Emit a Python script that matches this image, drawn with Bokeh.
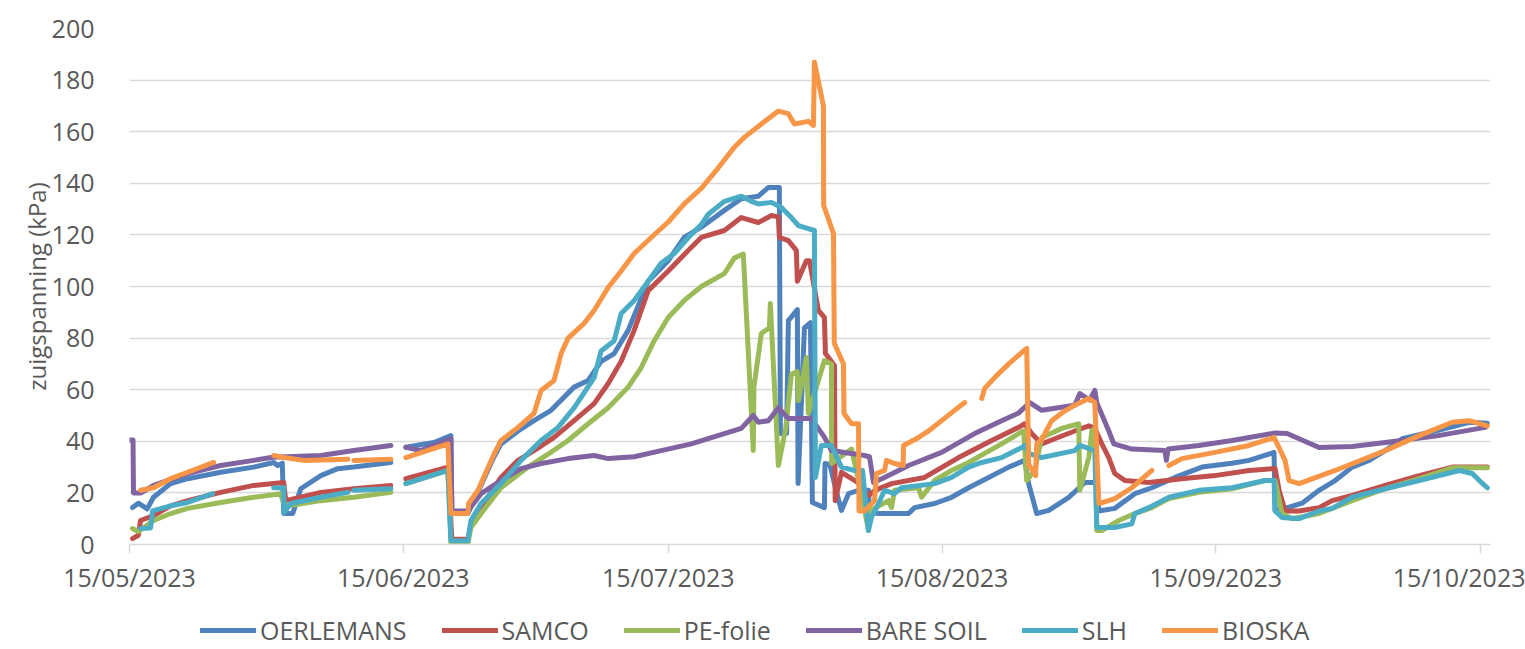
import pandas as pd
from bokeh.plotting import figure
from bokeh.layouts import column
from bokeh.models import (Range1d, FixedTicker, DatetimeTickFormatter, Legend,
                          LegendItem, ColumnDataSource)
from bokeh.embed import file_html
from bokeh.resources import INLINE

NaN = float("nan")
START_DATE = "2023-05-15"
END_DAY = 154.1  # axis end, days after start

SERIES = ["OERLEMANS", "SAMCO", "PE-folie", "BARE SOIL", "SLH", "BIOSKA"]
COLORS = ["#4F81BD", "#C0504D", "#9BBB59", "#8064A2", "#4BACC6", "#F79646"]
TICK_DATES = ["2023-05-15", "2023-06-15", "2023-07-15", "2023-08-15", "2023-09-15", "2023-10-15"]
Y_TICKS = [0, 20, 40, 60, 80, 100, 120, 140, 160, 180, 200]

# (days after 15/05/2023, zuigspanning kPa); NaN = gap in record
OERLEMANS = [
    (0.34, 14.3), (1.0, 16.0), (2.0, 13.8), (2.72, 18.3), (4.65, 23.6), (6.58, 25.5), (10.32, 28.0),
    (14.06, 30.0), (16.33, 31.8), (16.78, 30.6), (17.3, 31.5), (17.46, 12.0), (18.48, 12.0), (19.39, 21.6),
    (21.66, 26.7), (23.58, 29.4), (25.4, 30.0), (29.59, 31.8), (30.4, NaN), (31.29, 37.7), (34.47, 39.5),
    (36.39, 42.2), (36.5, 12.0), (38.32, 12.0), (39.8, 23.0), (41.27, 34.0), (42.06, 39.0), (44.0, 44.0),
    (45.8, 48.0), (47.73, 52.0), (50.34, 61.0), (51.93, 63.6), (53.4, 71.0), (54.88, 74.0), (56.46, 83.0),
    (58.73, 102.0), (61.0, 110.0), (62.81, 119.0), (64.74, 123.0), (67.35, 129.5), (69.27, 134.0),
    (71.2, 135.0), (72.34, 138.4), (73.58, 138.4), (73.7, 43.0), (74.4, 43.0), (74.6, 86.8), (75.62, 91.0),
    (75.7, 23.6), (76.42, 84.0), (77.1, 86.0), (77.32, 16.3), (78.68, 14.3), (78.75, 31.4), (79.3, 31.0),
    (80.0, 21.0), (80.61, 13.2), (81.41, 19.7), (82.54, 21.0), (83.67, 21.0), (83.79, 12.4), (84.81, 12.0),
    (88.21, 12.0), (88.89, 14.3), (91.16, 15.9), (93.08, 18.3), (95.01, 22.0), (97.28, 26.0), (99.55, 30.0),
    (101.36, 32.6), (101.81, 23.6), (102.72, 12.0), (104.08, 13.2), (106.35, 18.3), (108.16, 24.0),
    (109.5, 24.0), (109.75, 13.0), (111.56, 14.0), (113.83, 19.7), (115.76, 22.0), (118.37, 26.0),
    (121.43, 30.0), (124.83, 31.5), (126.76, 32.6), (129.59, 35.7), (129.71, 13.0), (130.84, 14.0),
    (132.77, 16.0), (134.69, 21.0), (136.51, 24.8), (138.44, 30.0), (140.36, 32.6), (142.18, 36.4),
    (144.1, 41.0), (147.85, 44.0), (151.7, 47.4), (153.74, 47.0)]

SAMCO = [
    (0.34, 2.3), (1.0, 3.6), (1.25, 9.3), (2.72, 11.2), (4.65, 15.0), (6.58, 17.0), (10.32, 20.2),
    (14.06, 22.9), (17.46, 24.0), (17.69, 17.0), (21.66, 20.2), (25.4, 21.6), (29.59, 22.9), (30.4, NaN),
    (31.29, 25.5), (36.05, 30.0), (36.5, 2.0), (38.32, 2.0), (38.66, 8.0), (39.8, 14.3), (42.06, 26.0),
    (43.99, 32.6), (45.8, 36.4), (48.07, 41.5), (50.34, 48.0), (52.61, 54.6), (54.2, 62.4), (55.67, 71.0),
    (57.14, 83.0), (58.73, 98.4), (61.0, 106.0), (63.27, 114.0), (64.74, 119.0), (67.35, 121.7),
    (69.27, 126.7), (71.2, 124.8), (72.68, 127.5), (73.47, 127.0), (73.58, 119.0), (74.6, 117.8),
    (75.5, 114.0), (75.62, 102.0), (76.64, 110.0), (77.0, 110.0), (78.0, 90.7), (78.68, 88.0), (78.8, 74.0),
    (79.82, 69.4), (79.9, 17.0), (80.61, 28.0), (82.5, 24.0), (83.7, 19.0), (84.4, 21.0), (86.28, 23.6),
    (90.02, 26.0), (93.88, 33.7), (97.62, 40.3), (100.68, 45.4), (101.36, 46.8), (102.15, 43.0),
    (103.29, 39.0), (104.76, 41.0), (107.03, 44.0), (108.62, 46.0), (109.3, 45.0), (110.09, 39.0),
    (110.88, 33.7), (111.56, 27.5), (112.7, 24.8), (115.42, 24.0), (119.16, 25.5), (122.9, 26.7),
    (126.76, 28.7), (129.71, 29.5), (130.16, 21.0), (130.84, 13.0), (132.43, 13.0), (134.69, 14.3),
    (136.17, 17.0), (138.44, 19.0), (142.18, 22.9), (146.03, 26.7), (149.77, 30.0), (153.74, 30.0)]

PE_FOLIE = [
    (0.34, 6.2), (1.0, 5.0), (2.72, 9.3), (4.65, 12.0), (6.58, 14.0), (10.32, 16.3), (14.06, 18.3),
    (17.12, 19.7), (17.46, 15.9), (18.0, 15.0), (21.66, 17.0), (25.4, 18.3), (29.59, 20.2), (30.4, NaN),
    (31.29, 23.6), (36.05, 28.7), (36.4, 0.5), (38.32, 0.5), (38.66, 6.6), (39.8, 12.0), (42.06, 22.0),
    (45.12, 30.0), (47.39, 35.0), (49.66, 40.3), (51.93, 46.8), (54.2, 53.0), (56.46, 61.0), (57.94, 68.6),
    (59.41, 79.0), (61.0, 88.0), (62.81, 94.6), (64.74, 100.0), (67.35, 105.0), (68.48, 111.0),
    (69.5, 112.6), (70.63, 36.4), (70.7, 61.0), (71.54, 81.8), (72.45, 84.0), (72.56, 93.4), (73.47, 30.6),
    (74.3, 45.0), (74.94, 66.0), (75.6, 67.0), (75.74, 55.8), (76.64, 72.5), (76.87, 50.8), (78.0, 63.6),
    (78.68, 71.3), (79.48, 70.0), (79.5, 31.4), (81.75, 37.0), (82.88, 19.7), (83.67, 5.4), (83.79, 13.0),
    (85.94, 17.0), (86.28, 14.3), (86.62, 21.0), (89.34, 22.0), (89.68, 18.3), (91.16, 24.8), (93.08, 28.7),
    (95.01, 31.8), (96.83, 35.3), (98.75, 39.0), (100.68, 43.0), (101.25, 44.0), (101.59, 24.8),
    (102.49, 28.7), (103.29, 41.5), (105.56, 45.0), (107.48, 46.8), (107.6, 21.0), (108.62, 33.7),
    (108.96, 44.0), (109.3, 45.0), (109.52, 5.4), (110.09, 5.4), (112.02, 9.3), (113.83, 12.0),
    (115.76, 14.3), (117.69, 17.8), (121.09, 20.2), (124.83, 21.6), (128.57, 24.8), (129.71, 24.8),
    (130.5, 12.0), (131.63, 10.0), (134.69, 12.0), (138.44, 17.0), (142.18, 21.6), (146.03, 25.5),
    (149.77, 29.7), (153.74, 29.7)]

BARE_SOIL = [
    (0.0, 40.5), (0.4, 40.5), (0.45, 20.0), (1.3, 20.0), (2.72, 22.9), (6.58, 27.5), (10.32, 30.6),
    (14.06, 32.6), (16.21, 33.8), (21.66, 34.5), (25.4, 36.4), (29.59, 38.4), (30.4, NaN), (31.29, 37.7),
    (32.99, 36.4), (34.47, 38.4), (36.39, 41.0), (36.5, 13.0), (38.32, 13.0), (39.8, 19.7), (42.06, 24.8),
    (44.33, 29.4), (46.6, 31.4), (49.66, 33.3), (52.61, 34.5), (54.2, 33.3), (57.14, 34.0), (60.2, 36.4),
    (63.61, 39.0), (69.27, 45.0), (70.63, 50.0), (71.2, 47.4), (72.34, 48.0), (73.47, 53.0), (74.6, 48.8),
    (77.21, 48.8), (78.68, 41.6), (79.48, 36.4), (83.22, 34.5), (83.79, 34.0), (84.24, 24.0), (85.49, 26.0),
    (88.21, 30.6), (91.95, 35.7), (95.69, 43.0), (98.75, 48.0), (100.68, 51.0), (101.93, 55.0),
    (103.29, 52.0), (107.03, 54.0), (107.6, 58.5), (108.73, 56.0), (109.3, 59.7), (109.52, 55.0),
    (110.88, 44.0), (111.45, 39.0), (113.49, 37.0), (117.23, 36.4), (117.4, 32.6), (117.6, 37.0),
    (121.09, 38.4), (124.83, 40.3), (129.71, 43.2), (131.07, 43.0), (134.69, 37.6), (138.44, 38.0),
    (142.18, 39.5), (147.85, 42.0), (153.51, 45.4)]

SLH = [
    (1.25, 6.2), (2.38, 6.4), (2.61, 13.0), (4.65, 15.0), (6.58, 16.3), (9.41, 19.7), (12.0, NaN),
    (16.33, 22.0), (17.46, 22.0), (17.5, 12.4), (18.25, 15.9), (21.66, 18.3), (24.72, 20.2), (25.0, NaN),
    (25.4, 21.0), (29.59, 21.6), (30.4, NaN), (31.29, 23.6), (36.05, 28.7), (36.39, 1.5), (38.32, 1.5),
    (38.66, 9.3), (39.8, 15.9), (42.06, 23.6), (44.33, 32.6), (46.6, 40.3), (48.53, 45.4), (50.34, 53.0),
    (52.61, 64.7), (53.4, 75.0), (54.88, 79.0), (55.67, 89.5), (57.14, 94.6), (58.73, 102.0), (60.2, 109.0),
    (61.68, 112.8), (63.27, 119.0), (64.74, 124.0), (65.53, 128.0), (67.35, 133.0), (69.27, 135.0),
    (70.41, 133.0), (71.2, 132.0), (72.68, 132.6), (73.81, 130.6), (74.94, 126.7), (75.74, 123.6),
    (77.55, 121.7), (77.66, 26.0), (78.34, 38.4), (79.48, 38.4), (80.61, 30.0), (82.09, 28.7), (83.0, 28.7),
    (83.67, 5.4), (84.01, 10.5), (84.81, 15.9), (85.49, 21.0), (86.62, 19.7), (87.41, 22.0), (91.16, 23.6),
    (93.08, 26.0), (95.01, 30.0), (96.49, 31.8), (98.75, 33.7), (101.02, 37.6), (101.36, 38.4),
    (101.81, 35.3), (103.29, 33.7), (107.03, 36.4), (107.6, 38.4), (109.3, 36.4), (109.52, 6.6),
    (111.56, 6.6), (113.49, 8.0), (113.83, 12.0), (115.42, 14.3), (117.69, 18.3), (121.09, 21.0),
    (124.83, 22.0), (128.57, 24.8), (129.59, 24.8), (129.71, 13.0), (130.5, 10.5), (132.43, 10.0),
    (134.69, 13.0), (136.17, 14.0), (138.44, 18.3), (142.18, 21.6), (146.03, 24.8), (150.57, 28.7),
    (152.04, 27.5), (152.83, 24.8), (153.74, 22.0)]

BIOSKA = [
    (1.25, 21.0), (2.72, 22.0), (4.65, 25.5), (6.58, 28.0), (9.52, 31.8), (12.0, NaN), (16.33, 34.5),
    (17.46, 33.7), (19.73, 32.6), (24.72, 33.0), (25.0, NaN), (25.4, 32.6), (29.59, 33.0), (30.4, NaN),
    (31.29, 33.7), (36.05, 39.0), (36.39, 12.0), (38.32, 12.0), (38.4, 15.9), (39.46, 21.0), (39.8, 23.6),
    (41.27, 35.0), (42.06, 40.3), (43.99, 45.4), (45.8, 50.8), (46.6, 59.7), (48.07, 63.6), (48.87, 74.0),
    (49.66, 80.0), (51.47, 85.7), (52.61, 90.7), (54.2, 99.6), (55.67, 106.0), (57.14, 112.8),
    (59.07, 119.0), (61.0, 125.0), (62.81, 132.0), (64.74, 138.0), (66.67, 146.0), (68.48, 154.0),
    (69.61, 157.8), (71.54, 163.0), (73.47, 168.0), (74.6, 167.0), (75.28, 163.0), (76.87, 164.0),
    (77.44, 162.4), (77.55, 187.0), (78.57, 170.0), (78.6, 131.4), (79.71, 120.5), (79.8, 78.0),
    (80.84, 70.0), (80.9, 50.8), (81.75, 46.8), (82.54, 46.8), (82.6, 13.0), (83.22, 13.0), (84.35, 17.0),
    (84.58, 27.5), (85.49, 28.7), (85.71, 32.6), (86.62, 31.4), (87.6, 30.6), (87.64, 38.4), (89.34, 41.5),
    (90.48, 44.0), (91.95, 48.0), (93.42, 52.0), (94.56, 55.0), (95.5, NaN), (96.49, 56.6), (96.83, 60.5),
    (97.96, 64.7), (99.55, 70.0), (101.02, 74.4), (101.59, 76.0), (101.81, 31.0), (102.6, 26.7),
    (102.72, 39.0), (103.29, 40.7), (104.42, 48.0), (105.56, 51.0), (107.03, 54.0), (108.62, 56.6),
    (109.3, 55.0), (109.75, 15.9), (110.88, 17.0), (111.56, 17.8), (113.49, 22.0), (115.76, 28.7),
    (116.7, NaN), (117.69, 30.6), (119.16, 33.3), (122.9, 35.7), (126.76, 38.4), (129.59, 41.5),
    (130.84, 32.6), (131.29, 24.8), (132.43, 23.6), (136.51, 28.7), (142.18, 36.4), (146.03, 42.2),
    (149.77, 47.4), (151.7, 48.0), (153.74, 46.0)]

DATA = [OERLEMANS, SAMCO, PE_FOLIE, BARE_SOIL, SLH, BIOSKA]

FONT = "Open Sans"
TEXT_COLOR = "#595959"
GRID_COLOR = "#D9D9D9"
LINE_W = 5

base = pd.Timestamp(START_DATE)


def to_source(pairs):
    days = [d for d, _ in pairs]
    vals = [v for _, v in pairs]
    x = (base + pd.to_timedelta(days, unit="D")).values
    return ColumnDataSource(dict(x=x, y=vals))


p = figure(width=1525, height=600, x_axis_type="datetime",
           output_backend="svg", toolbar_location=None,
           min_border_left=129, min_border_right=35, min_border_top=28, min_border_bottom=56,
           x_range=Range1d(base.to_pydatetime(), (base + pd.Timedelta(days=END_DAY)).to_pydatetime()),
           y_range=Range1d(0, 200))
p.outline_line_color = None
p.background_fill_color = "white"
p.border_fill_color = "white"

for name, color, pairs in zip(SERIES, COLORS, DATA):
    p.line("x", "y", source=to_source(pairs), line_color=color, line_width=LINE_W,
           line_join="round", line_cap="round")

# axes
tick_ms = [(pd.Timestamp(t) - pd.Timestamp("1970-01-01")) / pd.Timedelta(milliseconds=1) for t in TICK_DATES]
xa = p.xaxis[0]
xa.ticker = FixedTicker(ticks=tick_ms, minor_ticks=[])
fmt = "%d/%m/%Y"
xa.formatter = DatetimeTickFormatter(days=fmt, months=fmt, years=fmt, hours=fmt,
                                     hourmin=fmt, minutes=fmt, minsec=fmt, seconds=fmt,
                                     milliseconds=fmt, microseconds=fmt)
xa.axis_line_color = GRID_COLOR
xa.axis_line_width = 1.5
xa.major_tick_line_color = GRID_COLOR
xa.major_tick_line_width = 1.5
xa.major_tick_in = 0
xa.major_tick_out = 9
xa.minor_tick_line_color = None
xa.major_label_standoff = 6
xa.major_label_text_font = FONT
xa.major_label_text_font_size = "25px"
xa.major_label_text_color = TEXT_COLOR

ya = p.yaxis[0]
ya.ticker = FixedTicker(ticks=Y_TICKS, minor_ticks=[])
ya.axis_line_color = None
ya.major_tick_line_color = None
ya.minor_tick_line_color = None
ya.major_label_standoff = 29
ya.major_label_text_font = FONT
ya.major_label_text_font_size = "25px"
ya.major_label_text_color = TEXT_COLOR
ya.axis_label = "zuigspanning (kPa)"
ya.axis_label_text_font = FONT
ya.axis_label_text_font_size = "24px"
ya.axis_label_text_font_style = "normal"
ya.axis_label_text_color = TEXT_COLOR
ya.axis_label_standoff = -4

p.xgrid.grid_line_color = None
p.ygrid.ticker = FixedTicker(ticks=Y_TICKS)
p.ygrid.grid_line_color = GRID_COLOR
p.ygrid.grid_line_width = 1.5

# legend strip below the chart (its frame is aligned with the chart's frame)
lg = figure(width=1525, height=49, output_backend="svg", toolbar_location=None,
            x_range=Range1d(0, 1), y_range=Range1d(0, 1),
            min_border=0, min_border_left=0, min_border_right=0, min_border_top=0, min_border_bottom=0)
lg.axis.visible = False
lg.grid.visible = False
lg.outline_line_color = None
lg.border_fill_color = "white"
lg.background_fill_color = "white"
keys = [lg.line(x=[NaN], y=[NaN], line_color=c, line_width=LINE_W, line_cap="round") for c in COLORS]
legend = Legend(
    items=[LegendItem(label=n, renderers=[r]) for n, r in zip(SERIES, keys)],
    orientation="horizontal", location=(71, 2),
    label_text_font=FONT, label_text_font_size="25px", label_text_color=TEXT_COLOR,
    glyph_width=56, glyph_height=20, label_standoff=4, spacing=35,
    padding=0, margin=0, border_line_color=None, background_fill_alpha=0)
lg.add_layout(legend)

layout = column(p, lg, spacing=0)
open("out.html", "w").write(file_html(layout, INLINE))
